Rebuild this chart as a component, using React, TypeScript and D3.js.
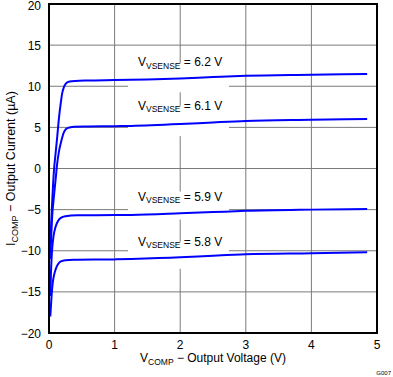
import React from "react";
import * as d3 from "d3";

const xTicks = [0, 1, 2, 3, 4, 5];
const yTicks = [-20, -15, -10, -5, 0, 5, 10, 15, 20];

const seriesNames = ["6.2", "6.1", "5.9", "5.8"];

const curve62: [number, number][] = [
  [0.02, -9], [0.05, -3.8], [0.076, -0.2], [0.1, 1.8], [0.126, 3.9], [0.15, 6.0],
  [0.18, 8.0], [0.2, 9.1], [0.23, 9.95], [0.26, 10.35], [0.3, 10.55], [0.4, 10.65],
  [0.6, 10.7], [1.0, 10.75], [1.5, 10.82], [2.0, 10.95], [2.5, 11.12], [3.0, 11.27],
  [4.0, 11.4], [4.85, 11.5],
];
const curve61: [number, number][] = [
  [0.02, -11], [0.05, -5.6], [0.07, -3.8], [0.1, -1.4], [0.126, 0.67], [0.15, 2.0],
  [0.18, 3.1], [0.23, 4.45], [0.28, 4.9], [0.38, 5.08], [0.6, 5.12], [1.0, 5.15],
  [1.25, 5.18], [2.0, 5.4], [2.5, 5.6], [3.0, 5.78], [4.0, 5.92], [4.85, 6.02],
];
const curve59: [number, number][] = [
  [0.02, -15.5], [0.03, -12.7], [0.05, -9.6], [0.1, -7.1], [0.18, -6.0], [0.25, -5.8],
  [0.43, -5.68], [1.0, -5.66], [1.25, -5.64], [2.0, -5.45], [2.5, -5.3], [3.0, -5.15],
  [4.0, -5.0], [4.85, -4.92],
];
const curve58: [number, number][] = [
  [0.02, -18], [0.05, -14.4], [0.1, -12.3], [0.18, -11.3], [0.25, -11.15], [0.38, -11.1],
  [1.0, -11.05], [1.25, -11.0], [2.0, -10.8], [2.5, -10.6], [3.0, -10.43], [4.0, -10.3],
  [4.85, -10.19],
];
const curves = [curve62, curve61, curve59, curve58];

// label anchor data values (voltage, current) for each label box
const labelPos: [number, number][] = [
  [1.37, 12.3],
  [1.37, 7.1],
  [1.37, -3.9],
  [1.37, -9.4],
];

const W = 393;
const H = 377;
const left = 49;
const right = 377;
const top = 4;
const bottom = 333;

export default function App() {
  const x = d3.scaleLinear().domain([0, 5]).range([left, right]);
  const y = d3.scaleLinear().domain([-20, 20]).range([bottom, top]);
  const line = d3
    .line<[number, number]>()
    .x((d) => x(d[0]))
    .y((d) => y(d[1]))
    .curve(d3.curveMonotoneX);

  const font = "'Liberation Sans', Arial, Helvetica, sans-serif";
  const gridColor = "#7a7a7a";

  return (
    <svg
      width={W}
      height={H}
      style={{ position: "absolute", left: 0, top: 0, background: "#fff" }}
      fontFamily={font}
    >
      <rect x={0} y={0} width={W} height={H} fill="#fff" />
      {/* grid */}
      {xTicks.slice(1, -1).map((t) => (
        <line key={"gx" + t} x1={x(t)} x2={x(t)} y1={top} y2={bottom} stroke={gridColor} strokeWidth={1} />
      ))}
      {yTicks.slice(1, -1).map((t) => (
        <line key={"gy" + t} x1={left} x2={right} y1={y(t)} y2={y(t)} stroke={gridColor} strokeWidth={1} />
      ))}
      {/* label boxes */}
      {labelPos.map((p, i) => {
        const heights = [29, 30, 28, 27];
        const by = y(p[1]) - 4;
        return (
          <rect key={"lb" + i} x={128} y={by - (i === 2 ? 5 : 0)} width={101} height={heights[i]} fill="#fff" />
        );
      })}
      {/* curves */}
      {curves.map((c, i) => (
        <path key={"c" + i} d={line(c) || ""} fill="none" stroke="#0000ff" strokeWidth={2} />
      ))}
      {/* labels */}
      {labelPos.map((p, i) => {
        const baselines = [66, 109.5, 200.5, 245.5];
        return (
          <text key={"lt" + i} x={138} y={baselines[i]} fontSize={12} fill="#000">
            V
            <tspan fontSize={8.5} dy={2.5}>VSENSE</tspan>
            <tspan dy={-2.5}>{" = " + seriesNames[i] + " V"}</tspan>
          </text>
        );
      })}
      {/* frame */}
      <rect x={left} y={top} width={right - left} height={bottom - top} fill="none" stroke="#000" strokeWidth={2} />
      {/* y tick labels */}
      {yTicks.map((t) => (
        <text key={"yl" + t} x={41} y={Math.max(y(t) + 4.5, 9.5)} fontSize={12} textAnchor="end" fill="#000">
          {t < 0 ? "\u2212" + Math.abs(t) : String(t)}
        </text>
      ))}
      {/* x tick labels */}
      {xTicks.map((t) => (
        <text key={"xl" + t} x={x(t)} y={348.5} fontSize={12} textAnchor="middle" fill="#000">
          {String(t)}
        </text>
      ))}
      {/* x title */}
      <text x={(left + right) / 2} y={362} fontSize={12} textAnchor="middle" fill="#000">
        V
        <tspan fontSize={8.5} dy={2.5}>COMP</tspan>
        <tspan dy={-2.5}>{" \u2212 Output Voltage (V)"}</tspan>
      </text>
      {/* y title */}
      <text
        transform={`translate(15, ${(top + bottom) / 2}) rotate(-90)`}
        fontSize={12.5}
        textAnchor="middle"
        fill="#000"
      >
        I
        <tspan fontSize={9} dy={2.5}>COMP</tspan>
        <tspan dy={-2.5}>{" \u2212 Output Current (\u00B5A)"}</tspan>
      </text>
      {/* figure id */}
      <text x={391} y={375} fontSize={6} textAnchor="end" fill="#000">
        G007
      </text>
    </svg>
  );
}
